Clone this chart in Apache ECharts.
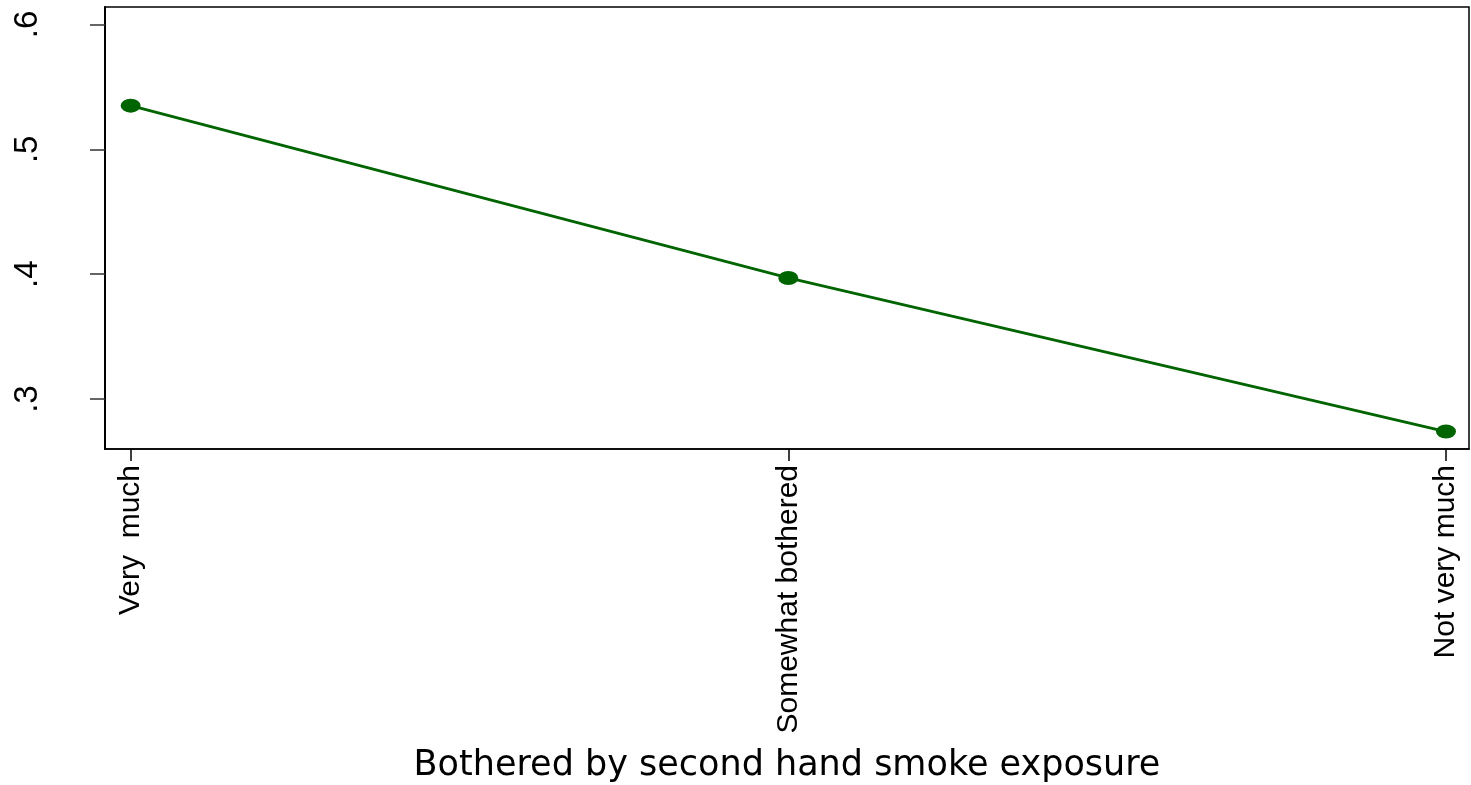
<!DOCTYPE html>
<html>
<head>
<meta charset="utf-8">
<script src="https://cdn.jsdelivr.net/npm/echarts@6/dist/echarts.min.js"></script>
<style>html,body{margin:0;padding:0;background:#fff}#c{width:1471px;height:785px}</style>
</head>
<body>
<div id="c"></div>
<script>
const categories = ["Very  much", "Somewhat bothered", "Not very much"];
const values = [0.535, 0.397, 0.274];
const yTicks = [0.3, 0.4, 0.5, 0.6];
const xTitle = "Bothered by second hand smoke exposure";

const sans = '"Liberation Sans", Arial, sans-serif';
const chart = echarts.init(document.getElementById('c'));
const ellipse = 'path://M0 50 A50 50 0 1 1 100 50 A50 50 0 1 1 0 50 Z';
chart.setOption({
  animation: false,
  backgroundColor: '#fff',
  grid: { left: 105, right: 2, top: 7, bottom: 336, show: true, borderColor: '#000', borderWidth: 1.5,
          containLabel: false, outerBoundsMode: 'none' },
  xAxis: {
    type: 'value', min: -0.039, max: 2.035,
    name: xTitle, nameLocation: 'middle', nameGap: 299,
    nameTextStyle: { fontFamily: '"DejaVu Sans", sans-serif', fontSize: 35, color: '#000' },
    axisLine: { show: true, onZero: false, lineStyle: { color: '#000', width: 1.5 } },
    axisTick: { show: true, length: 12, customValues: [0, 1, 2], lineStyle: { color: '#000', width: 1.5 } },
    axisLabel: {
      customValues: [0, 1, 2], rotate: 90, margin: 16,
      fontFamily: sans, fontSize: 30, color: '#000',
      formatter: v => categories[Math.round(v)] || ''
    },
    splitLine: { show: false }
  },
  yAxis: {
    type: 'value', min: 0.26, max: 0.614,
    axisLine: { show: true, onZero: false, lineStyle: { color: '#000', width: 2 } },
    axisTick: { show: true, length: 15, customValues: yTicks, lineStyle: { color: '#333', width: 1.5 } },
    axisLabel: {
      customValues: yTicks, rotate: 90, margin: 61,
      fontFamily: sans, fontSize: 33, color: '#000',
      formatter: v => String(Math.round(v * 10) / 10).replace(/^0/, '')
    },
    splitLine: { show: false }
  },
  series: [{
    type: 'line',
    data: values.map((v, i) => [i, v]),
    symbol: ellipse, symbolSize: [20, 14], symbolKeepAspect: false,
    itemStyle: { color: '#006400' },
    lineStyle: { color: '#006400', width: 2.8 }
  }]
});
</script>
</body>
</html>
